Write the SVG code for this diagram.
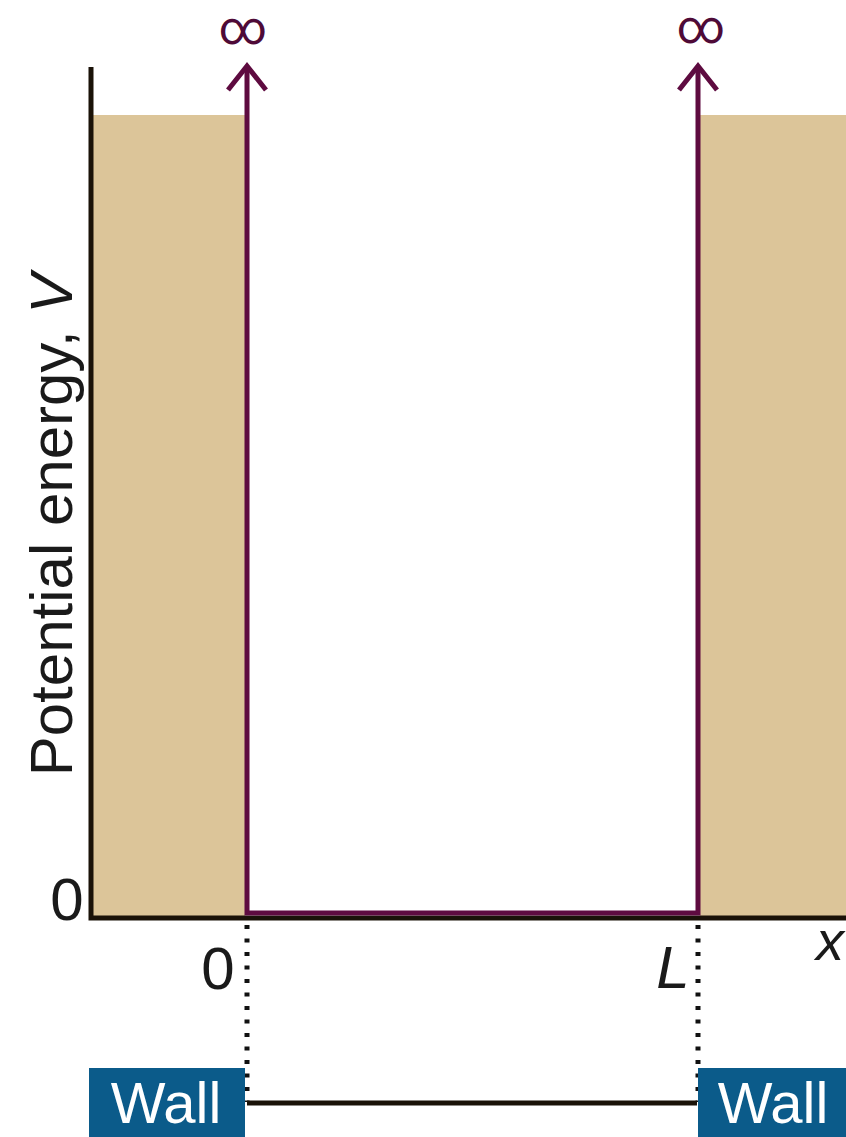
<svg xmlns="http://www.w3.org/2000/svg" width="846" height="1137" viewBox="0 0 846 1137">
<style>
.t{font-family:"Liberation Sans",Arial,sans-serif;fill:#1a1a1a}
.w{font-family:"Liberation Sans",Arial,sans-serif;fill:#ffffff;font-size:58px}
.inf{font-family:Roboto,"DejaVu Sans",sans-serif;fill:#4e0a37;font-size:47px}
.pl{stroke:#5e0b40;stroke-width:5;fill:none}
.ax{stroke:#1a1208;stroke-width:5;fill:none}
.dot{stroke:#111;stroke-width:5;stroke-dasharray:4 9.5;fill:none}
.tan{fill:#dcc599}
.wall{fill:#0b5b8a}
</style>
<g id="barriers">
<rect class="tan" x="93" y="115" width="152" height="801"/>
<rect class="tan" x="700" y="115" width="146" height="801"/>
</g>
<g id="axes">
<polyline class="ax" points="91,67 91,918 846,918"/>
<text class="t" x="67" y="920" font-size="60" text-anchor="middle">0</text>
<text class="t" transform="translate(72,525) rotate(-90)" font-size="60" text-anchor="middle">Potential energy, <tspan font-style="italic">V</tspan></text>
<text class="t" x="218" y="989" font-size="60" text-anchor="middle">0</text>
<text class="t" x="673" y="988" font-size="60" text-anchor="middle" font-style="italic">L</text>
<text class="t" x="830" y="960" font-size="56" text-anchor="middle" font-style="italic">x</text>
</g>
<g id="well">
<polyline class="pl" points="247,66 247,913 698,913 698,66"/>
<polyline class="pl" points="228,90 247,66 266,90"/>
<polyline class="pl" points="679,90 698,66 717,90"/>
<text class="inf" x="243" y="44" text-anchor="middle">∞</text>
<text class="inf" x="701" y="43" text-anchor="middle">∞</text>
</g>
<g id="connectors">
<line class="dot" x1="247" y1="925" x2="247" y2="1102"/>
<line class="dot" x1="698" y1="925" x2="698" y2="1102"/>
<line class="ax" x1="247" y1="1103" x2="697" y2="1103" stroke-width="4"/>
</g>
<g id="wall-left">
<rect class="wall" x="89" y="1068" width="156" height="69"/>
<text class="w" x="166" y="1123" text-anchor="middle">Wall</text>
</g>
<g id="wall-right">
<rect class="wall" x="698" y="1068" width="148" height="69"/>
<text class="w" x="773" y="1123" text-anchor="middle">Wall</text>
</g>
</svg>
